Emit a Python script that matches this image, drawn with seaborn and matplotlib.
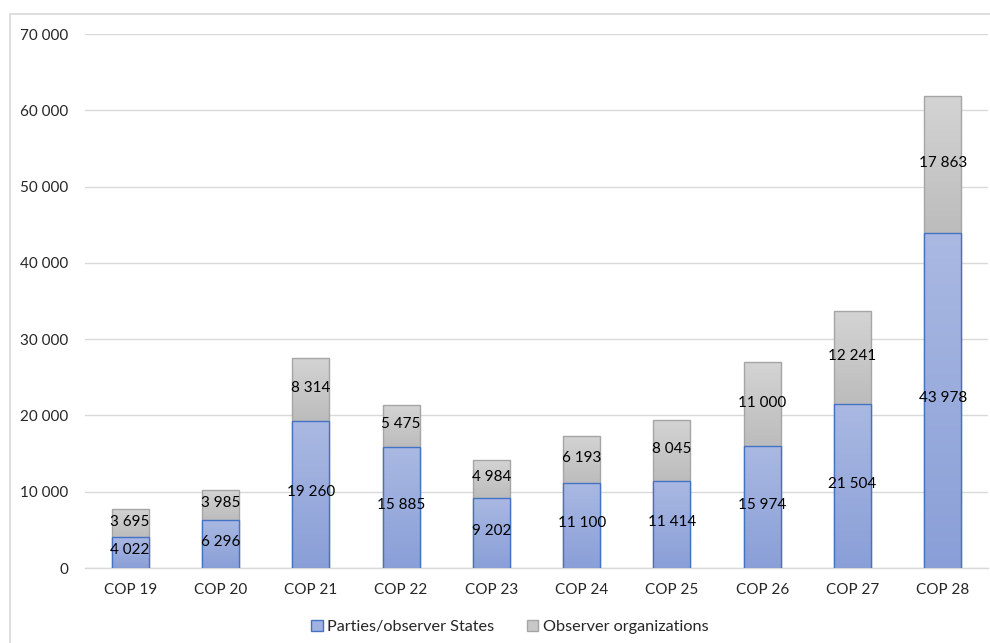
import matplotlib
matplotlib.use("Agg")
import matplotlib.pyplot as plt
import seaborn as sns
import numpy as np
import pandas as pd
from matplotlib.patches import Patch, Rectangle
from matplotlib.colors import LinearSegmentedColormap

categories = ["COP 19", "COP 20", "COP 21", "COP 22", "COP 23", "COP 24", "COP 25", "COP 26", "COP 27", "COP 28"]
parties = [4022, 6296, 19260, 15885, 9202, 11100, 11414, 15974, 21504, 43978]
observers = [3695, 3985, 8314, 5475, 4984, 6193, 8045, 11000, 12241, 17863]
series_names = ["Parties/observer States", "Observer organizations"]
yticks = [0, 10000, 20000, 30000, 40000, 50000, 60000, 70000]

sns.set_theme(style="white")
plt.rcParams['font.family'] = ['Lato', 'DejaVu Sans']

totals = [p + o for p, o in zip(parties, observers)]
df = pd.DataFrame({"cop": categories, "parties": parties, "total": totals})

fig = plt.figure(figsize=(9.9, 6.43), dpi=100)
ax = fig.add_axes([85/990, (643-568)/643, (988-85)/990, (568-34)/643])

blue_edge = "#4472c4"
grey_edge = "#a5a5a5"
blue_cmap = LinearSegmentedColormap.from_list("b", ["#8a9fd8", "#aab9e2"])
grey_cmap = LinearSegmentedColormap.from_list("g", ["#bcbcbc", "#d4d4d4"])

sns.barplot(data=df, x="cop", y="total", ax=ax, width=0.41, color="#c8c8c8", saturation=1, errorbar=None)
n_grey = len(ax.patches)
sns.barplot(data=df, x="cop", y="parties", ax=ax, width=0.41, color="#a0b2df", saturation=1, errorbar=None)

grad = np.linspace(0, 1, 256).reshape(-1, 1)
for i, patch in enumerate(ax.patches):
    x0 = patch.get_x(); w = patch.get_width()
    if i < n_grey:
        lo = parties[i]; hi = totals[i]
        cmap = grey_cmap; ec = grey_edge; zimg = 1.9; zp = 2.0
    else:
        j = i - n_grey
        lo = 0; hi = parties[j]
        cmap = blue_cmap; ec = blue_edge; zimg = 2.5; zp = 2.6
    patch.set_facecolor("none")
    patch.set_edgecolor(ec)
    patch.set_linewidth(1.0)
    patch.set_zorder(zp)
    im = ax.imshow(grad, cmap=cmap, origin="lower", aspect="auto",
                   extent=(x0, x0 + w, lo, hi), zorder=zimg, interpolation="bilinear")
    im.set_clip_path(patch)

for i in range(len(categories)):
    ax.text(i, parties[i] / 2 + 300, f"{parties[i]:,}".replace(",", " "), ha="center", va="center",
            fontsize=11, color="#000000", zorder=5)
    ax.text(i, parties[i] + observers[i] / 2 + 200, f"{observers[i]:,}".replace(",", " "), ha="center", va="center",
            fontsize=11, color="#000000", zorder=5)

ax.set_xlim(-0.5, len(categories) - 0.5)
ax.set_ylim(0, 70000)
ax.set_yticks(yticks)
ax.set_yticklabels([f"{v:,}".replace(",", " ") for v in yticks])
ax.yaxis.grid(True, color="#d9d9d9", linewidth=1)
ax.set_axisbelow(True)
for s in ["top", "right", "left"]:
    ax.spines[s].set_visible(False)
ax.spines["bottom"].set_color("#d9d9d9")
ax.spines["bottom"].set_linewidth(1)
ax.tick_params(axis="both", length=0, labelsize=11, colors="#262626")
ax.tick_params(axis="y", pad=12)
ax.tick_params(axis="x", pad=11)
ax.set_xlabel("")
ax.set_ylabel("")

handles = [Patch(facecolor="#a0b2df", edgecolor=blue_edge, label=series_names[0]),
           Patch(facecolor="#c8c8c8", edgecolor=grey_edge, label=series_names[1])]
fig.legend(handles=handles, loc="center", bbox_to_anchor=(510/990, 1 - 627/643), ncol=2,
           frameon=False, fontsize=11.7, handlelength=0.7, handleheight=0.7, handletextpad=0.3,
           columnspacing=2.0, labelcolor="#262626")

fig.patches.append(Rectangle((10/990, -0.05), 1.2, 1.05 - 14/643 + 0.0, transform=fig.transFigure,
                             fill=False, edgecolor="#d9d9d9", linewidth=1.2, zorder=0))

fig.savefig("out.png", dpi=100)
